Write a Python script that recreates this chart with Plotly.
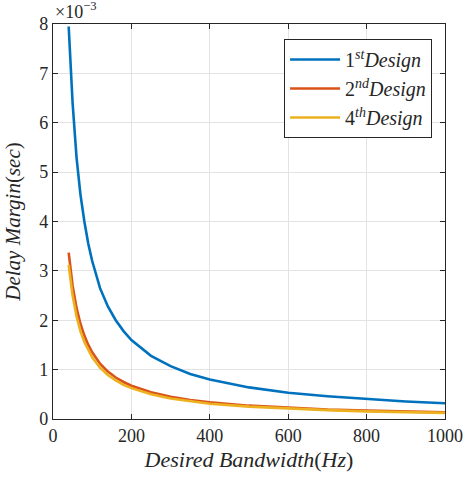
import plotly.graph_objects as go

bandwidth = [40, 50, 60, 70, 80, 90, 100, 120, 140, 160, 180, 200, 250, 300, 350, 400, 500, 600, 700, 800, 900, 1000]
design1 = [7.95, 6.4, 5.3, 4.55, 4.0, 3.55, 3.2, 2.65, 2.28, 2.0, 1.78, 1.6, 1.28, 1.07, 0.91, 0.8, 0.64, 0.53, 0.46, 0.4, 0.355, 0.32]
design2 = [3.37, 2.7, 2.25, 1.93, 1.69, 1.5, 1.35, 1.12, 0.96, 0.84, 0.75, 0.675, 0.54, 0.45, 0.385, 0.34, 0.27, 0.225, 0.19, 0.17, 0.15, 0.135]
design4 = [3.12, 2.5, 2.08, 1.78, 1.56, 1.39, 1.25, 1.04, 0.89, 0.78, 0.69, 0.625, 0.5, 0.415, 0.36, 0.31, 0.25, 0.21, 0.18, 0.155, 0.14, 0.125]
names = ["1<sup><i>st</i></sup><i>Design</i>", "2<sup><i>nd</i></sup><i>Design</i>", "4<sup><i>th</i></sup><i>Design</i>"]
colors = ["#0072BD", "#D95319", "#EDB120"]
xticks = [0, 200, 400, 600, 800, 1000]
yticks = [0, 1, 2, 3, 4, 5, 6, 7, 8]

FONT = "'Liberation Serif', 'DejaVu Serif', serif"
fig = go.Figure()
for ys, nm, c in zip([design1, design2, design4], names, colors):
    fig.add_trace(go.Scatter(x=bandwidth, y=[v * 1e-3 for v in ys], mode="lines", name=nm,
                             line=dict(color=c, width=2.6)))

axis_common = dict(showline=True, linecolor="#262626", linewidth=1.2, mirror="ticks",
                   ticks="inside", ticklen=5, tickcolor="#262626", showgrid=True,
                   gridcolor="#e3e3e3", gridwidth=1, zeroline=False, automargin=False,
                   ticklabeloverflow="allow",
                   tickfont=dict(family=FONT, size=18, color="#262626"))
fig.update_xaxes(range=[0, 1000], tickvals=xticks, ticktext=[str(t) for t in xticks],
                 title=dict(text="<i>Desired Bandwidth</i>(<i>Hz</i>)", font=dict(family=FONT, size=22, color="#262626"), standoff=6),
                 **axis_common)
fig.update_yaxes(range=[0, 0.008], tickvals=[t * 1e-3 for t in yticks], ticktext=[str(t) for t in yticks],
                 title=dict(text="<i>Delay Margin</i>(<i>sec</i>)", font=dict(family=FONT, size=21, color="#262626"), standoff=12),
                 **axis_common)
fig.add_annotation(text="×10<sup>−3</sup>", xref="paper", yref="paper", x=0.0, y=1.0,
                   xanchor="left", yanchor="bottom", showarrow=False,
                   font=dict(family=FONT, size=18, color="#262626"))
fig.update_layout(width=465, height=479, margin=dict(l=53, r=20, t=24, b=60, autoexpand=False),
                  plot_bgcolor="white", paper_bgcolor="white",
                  legend=dict(x=0.967, y=0.962, xanchor="right", yanchor="top",
                              bgcolor="white", bordercolor="#262626", borderwidth=1,
                              font=dict(family=FONT, size=20, color="#262626"),
                              tracegroupgap=0, itemwidth=50),
                  showlegend=True)
fig.write_html("out.html")
